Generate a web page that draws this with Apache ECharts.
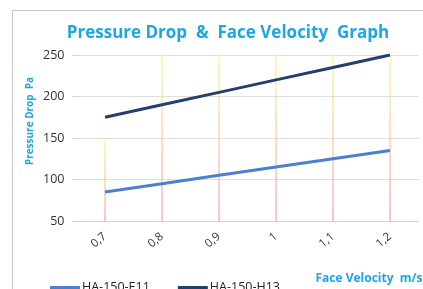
<!DOCTYPE html>
<html><head><meta charset="utf-8">
<script src="https://cdn.jsdelivr.net/npm/echarts@6/dist/echarts.min.js"></script>
<style>html,body{margin:0;padding:0;background:#fff}#c{width:423px;height:289px}</style>
</head><body><div id="c"></div>
<script>
var categories = ['0,7','0,8','0,9','1','1,1','1,2'];
var e11 = [85, 95, 105, 115, 125, 135];
var h13 = [175, 190, 205, 220, 235, 250];
var dropLines = [148, 250, 250, 250, 250, 250];
var yTicks = [50, 100, 150, 200, 250];

var chart = echarts.init(document.getElementById('c'));
var font = 'Open Sans';
chart.setOption({
  animation: false,
  backgroundColor: '#fff',
  title: {
    text: 'Pressure Drop  &  Face Velocity  Graph',
    left: 223, top: 20, textAlign: 'center',
    textStyle: {color: '#1ea6df', fontSize: 17, fontWeight: 'bold', fontFamily: font}
  },
  graphic: [
    {type: 'rect', shape: {x: 12.5, y: 10.5, width: 420, height: 290}, style: {fill: 'none', stroke: '#c8c8c8', lineWidth: 1}, z: -1},
    {type: 'text', x: 30, y: 121, rotation: Math.PI/2, style: {text: 'Pressure Drop  Pa', fill: '#1ea6df', font: 'bold 10px "Open Sans"', align: 'center', verticalAlign: 'middle'}}
  ],
  legend: {
    data: ['HA-150-E11', 'HA-150-H13'],
    left: 45, top: 276, itemWidth: 30, itemHeight: 3, itemGap: 28,
    icon: 'rect',
    textStyle: {color: '#222', fontSize: 12.5, fontFamily: font, padding: [0,0,0,-3]}
  },
  grid: {left: 76.5, right: 4.5, top: 55, bottom: 68, containLabel: false, outerBoundsMode: 'none'},
  xAxis: {
    type: 'category', data: categories, boundaryGap: true,
    name: 'Face Velocity  m/s', nameLocation: 'end',
    nameGap: 0,
    nameTextStyle: {color: '#1ea6df', fontSize: 12, fontWeight: 'bold', fontFamily: font, align: 'right', verticalAlign: 'top', padding: [52, -4, 0, 0]},
    axisLine: {lineStyle: {color: '#d0d0d0', width: 1}},
    axisTick: {show: false},
    axisLabel: {rotate: 40, color: '#333', fontSize: 11.5, fontFamily: font, margin: 14},
    splitLine: {show: false}
  },
  yAxis: {
    type: 'value', min: 50, max: 250, interval: 50,
    axisLine: {show: false},
    axisTick: {show: true, length: 4, lineStyle: {color: '#d0d0d0'}},
    axisLabel: {color: '#333', fontSize: 12.5, fontFamily: font, margin: 12},
    splitLine: {lineStyle: {color: '#dedede', width: 1}}
  },
  series: [
    {
      name: 'drop', type: 'bar', data: dropLines, barWidth: 1, silent: true,
      itemStyle: {color: new echarts.graphic.LinearGradient(0, 1, 0, 0, [
        {offset: 0, color: '#f08aa8'}, {offset: 1, color: '#fff36a'}
      ])},
      z: 1
    },
    {name: 'HA-150-E11', type: 'line', data: e11, symbol: 'none', lineStyle: {color: '#4a7fd2', width: 3}, itemStyle: {color: '#4a7fd2'}, z: 3},
    {name: 'HA-150-H13', type: 'line', data: h13, symbol: 'none', lineStyle: {color: '#223f6e', width: 3}, itemStyle: {color: '#223f6e'}, z: 3}
  ]
});
</script></body></html>
